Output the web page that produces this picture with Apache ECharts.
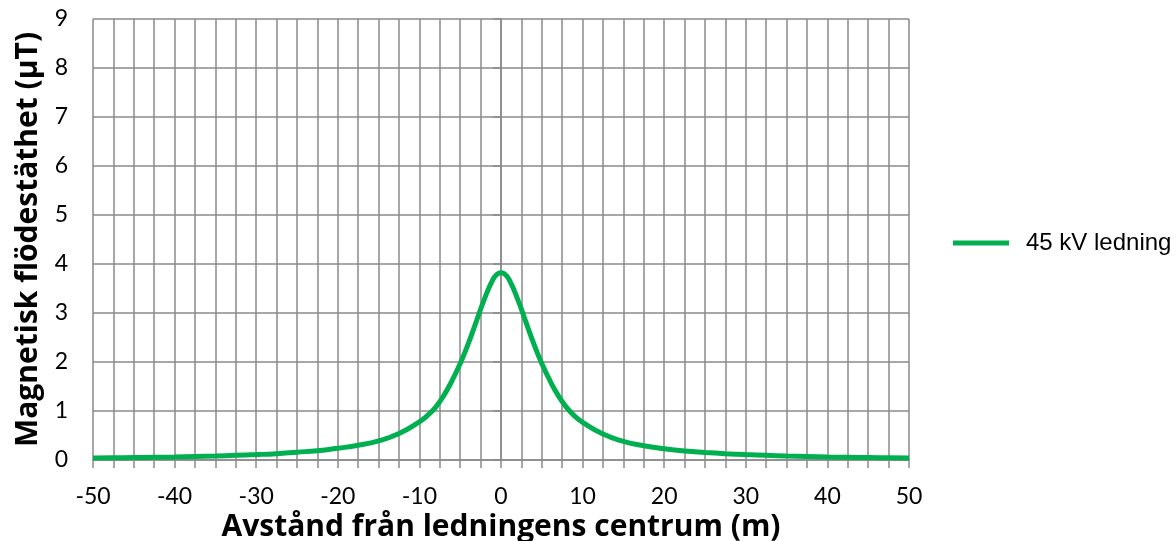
<!DOCTYPE html>
<html>
<head>
<meta charset="utf-8">
<script src="https://cdn.jsdelivr.net/npm/echarts@6/dist/echarts.min.js"></script>
<style>
html,body{margin:0;padding:0;background:#fff;}
#chart{width:1176px;height:541px;}
</style>
</head>
<body>
<div id="chart"></div>
<script>
const distances = [-50,-47.5,-45,-42.5,-40,-37.5,-35,-32.5,-30,-27.5,-25,-22.5,-20,-17.5,-15,-12.5,-10,-9,-8,-7,-6,-5,-4,-3,-2,-1,-0.5,0,0.5,1,2,3,4,5,6,7,8,9,10,12.5,15,17.5,20,22.5,25,27.5,30,32.5,35,37.5,40,42.5,45,47.5,50];
const fluxDensity = [0.04,0.045,0.05,0.055,0.06,0.07,0.08,0.095,0.11,0.13,0.16,0.19,0.24,0.30,0.39,0.54,0.78,0.91,1.08,1.32,1.62,1.97,2.38,2.84,3.3,3.68,3.79,3.82,3.79,3.68,3.3,2.84,2.38,1.97,1.62,1.32,1.08,0.9,0.77,0.53,0.38,0.29,0.23,0.185,0.155,0.13,0.11,0.095,0.08,0.07,0.06,0.055,0.05,0.045,0.04];
const seriesName = '45 kV ledning';
const xTitle = 'Avstånd från ledningens centrum (m)';
const yTitle = 'Magnetisk flödestäthet (µT)';

const chart = echarts.init(document.getElementById('chart'));
const gridColor = '#8a8a8a';
const labelFont = 'Lato';
const titleFont = "'Open Sans'";
chart.setOption({
  animation: false,
  backgroundColor: '#fff',
  legend: {
    data: [seriesName],
    left: 948, top: 226,
    icon: 'rect', itemWidth: 56, itemHeight: 5, itemGap: 10,
    textStyle: {fontFamily: 'Liberation Sans', fontSize: 24, color: '#000', padding:[0,0,0,12]}
  },
  grid: {left: 93, right: 267, top: 19, bottom: 81, containLabel: false, outerBoundsMode: 'none'},
  xAxis: {
    type: 'value', min: -50, max: 50, interval: 10,
    name: xTitle, nameLocation: 'middle', nameGap: 45,
    nameTextStyle: {fontFamily: titleFont, fontWeight: 'bold', fontSize: 30, color: '#000'},
    axisLine: {show: true, lineStyle: {color: gridColor, width: 1.5}},
    axisTick: {show: true, length: 8, lineStyle: {color: gridColor, width: 1.5}},
    minorTick: {show: true, splitNumber: 4, length: 8, lineStyle: {color: gridColor, width: 1.5}},
    splitLine: {show: true, lineStyle: {color: gridColor, width: 1.5}},
    minorSplitLine: {show: true, lineStyle: {color: gridColor, width: 1.5}},
    axisLabel: {fontFamily: labelFont, fontSize: 23, color: '#000', margin: 25}
  },
  yAxis: {
    type: 'value', min: 0, max: 9, interval: 1,
    name: yTitle, nameLocation: 'middle', nameGap: 48, nameRotate: 90,
    nameTextStyle: {fontFamily: titleFont, fontWeight: 'bold', fontSize: 30, color: '#000'},
    axisLine: {show: true, lineStyle: {color: gridColor, width: 1.5}},
    axisTick: {show: true, length: 8, lineStyle: {color: gridColor, width: 1.5}},
    splitLine: {show: true, lineStyle: {color: gridColor, width: 1.5}},
    axisLabel: {fontFamily: labelFont, fontSize: 23, color: '#000', margin: 25}
  },
  series: [{
    name: seriesName, type: 'line', smooth: true, showSymbol: false,
    data: distances.map((d, i) => [d, fluxDensity[i]]),
    lineStyle: {color: '#00b050', width: 5},
    itemStyle: {color: '#00b050'}
  }]
});
</script>
</body>
</html>
